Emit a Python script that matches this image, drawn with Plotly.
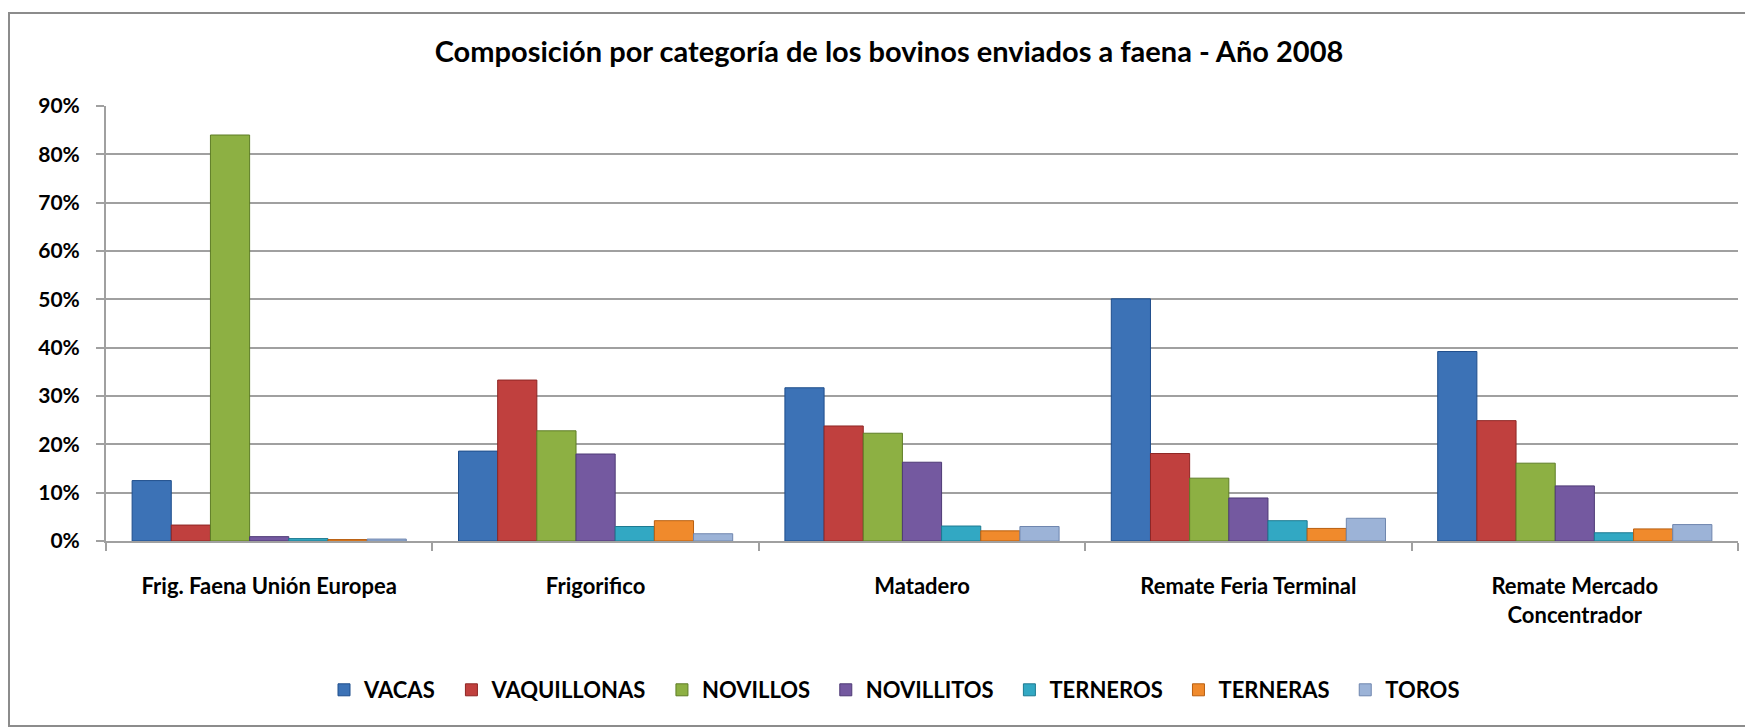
import plotly.graph_objects as go

categories = ["Frig. Faena Unión Europea", "Frigorifico", "Matadero",
              "Remate Feria Terminal", "Remate Mercado<br>Concentrador"]
series_names = ["VACAS", "VAQUILLONAS", "NOVILLOS", "NOVILLITOS", "TERNEROS", "TERNERAS", "TOROS"]
vacas = [0.125, 0.186, 0.317, 0.501, 0.392]
vaquillonas = [0.033, 0.333, 0.238, 0.181, 0.249]
novillos = [0.840, 0.228, 0.223, 0.130, 0.161]
novillitos = [0.009, 0.180, 0.163, 0.089, 0.114]
terneros = [0.005, 0.030, 0.031, 0.042, 0.017]
terneras = [0.003, 0.042, 0.021, 0.026, 0.025]
toros = [0.004, 0.015, 0.030, 0.047, 0.034]
series_values = [vacas, vaquillonas, novillos, novillitos, terneros, terneras, toros]
colors = ["#3C72B6", "#C0403E", "#8DB043", "#7459A0", "#32A8C3", "#F08A2C", "#9CB3D7"]
edges = ["#1F4E8C", "#8E2624", "#5E7D26", "#4E3A76", "#1D7A91", "#B85F10", "#6F86AE"]
y_ticks = [0, 0.1, 0.2, 0.3, 0.4, 0.5, 0.6, 0.7, 0.8, 0.9]

fig = go.Figure()
for name, vals, c, e in zip(series_names, series_values, colors, edges):
    fig.add_trace(go.Bar(x=categories, y=vals, name=name + "&nbsp;&nbsp;",
                         marker=dict(color=c, line=dict(color=e, width=1))))

# page has an 8px body margin, so figure coords = page coords - 8
W, H = 1745, 720
L, R, T, B = 98, 15, 98, 187
pw, ph = W - L - R, H - T - B

def px(x):
    return (x - L) / pw

def py(y):
    return (H - B - y) / ph

font_family = "Lato, 'Open Sans', sans-serif"
fig.update_layout(
    width=W, height=H,
    margin=dict(l=L, r=R, t=T, b=B),
    paper_bgcolor="white", plot_bgcolor="white",
    barmode="group", bargap=0.16, bargroupgap=0,
    font=dict(family=font_family, color="black", size=20),
    title=dict(text="<b>Composición por categoría de los bovinos enviados a faena - Año 2008</b>",
               x=881 / W, xanchor="center", y=1 - 44 / H, yanchor="middle",
               font=dict(size=29, family=font_family, color="black")),
    showlegend=True,
    legend=dict(orientation="h", x=px(892), xanchor="center", y=py(682), yanchor="middle",
                font=dict(size=22, family=font_family, color="black", weight="bold"),
                itemwidth=30, traceorder="normal", tracegroupgap=0),
    shapes=[dict(type="rect", xref="paper", yref="paper",
                 x0=px(1), x1=px(1743), y0=py(718), y1=py(5),
                 line=dict(color="#8C8C8C", width=2), fillcolor="rgba(0,0,0,0)", layer="below")],
)
fig.update_yaxes(range=[0, 0.9], tickvals=y_ticks, tickformat=".0%",
                 showgrid=True, gridcolor="#A0A0A0", gridwidth=2,
                 showline=True, linecolor="#A0A0A0", linewidth=2,
                 ticks="outside", ticklen=8, tickcolor="#A0A0A0", tickwidth=2,
                 ticklabelstandoff=12,
                 tickfont=dict(size=21, family=font_family, color="black", weight="bold"),
                 zeroline=False)
fig.update_xaxes(showline=True, linecolor="#A0A0A0", linewidth=2,
                 ticks="outside", tickson="boundaries", ticklen=8, tickcolor="#A0A0A0", tickwidth=2,
                 ticklabelstandoff=25,
                 tickfont=dict(size=22, family=font_family, color="black", weight="bold"))
fig.write_html("out.html")
